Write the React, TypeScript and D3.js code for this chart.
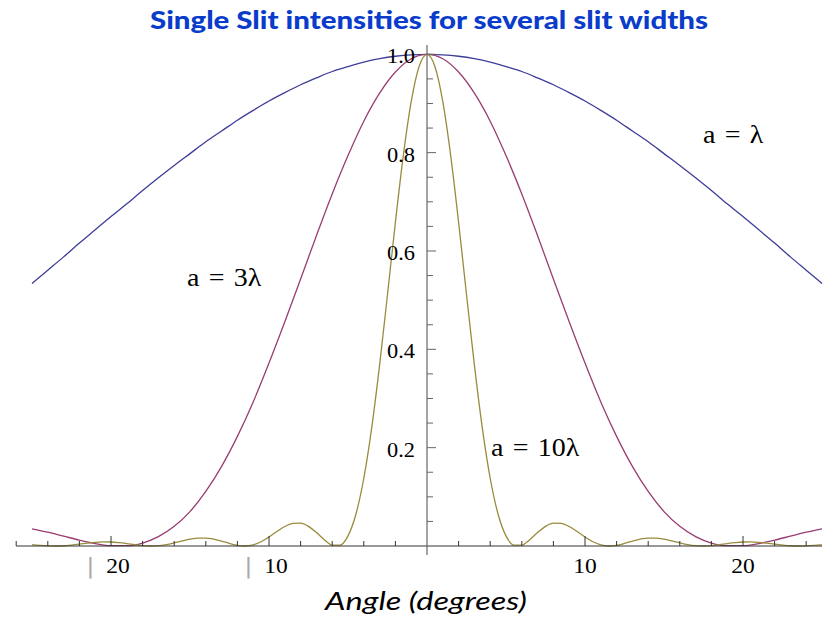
import * as d3 from "d3";

// Angles (degrees) sampled every 1 deg for the two wide slits
const ANGLES_COARSE = [
  -25, -24, -23, -22, -21, -20, -19, -18, -17, -16, -15, -14, -13, -12, -11, -10, -9, -8, -7, -6,
  -5, -4, -3, -2, -1, 0, 1, 2, 3, 4, 5, 6, 7, 8, 9, 10, 11, 12, 13, 14, 15, 16, 17, 18, 19, 20,
  21, 22, 23, 24, 25,
];

// Angles sampled every 0.5 deg for the narrow central peak of a = 10λ
const ANGLES_FINE = [
  -25, -24.5, -24, -23.5, -23, -22.5, -22, -21.5, -21, -20.5, -20, -19.5, -19, -18.5, -18, -17.5,
  -17, -16.5, -16, -15.5, -15, -14.5, -14, -13.5, -13, -12.5, -12, -11.5, -11, -10.5, -10, -9.5,
  -9, -8.5, -8, -7.5, -7, -6.5, -6, -5.5, -5, -4.5, -4, -3.5, -3, -2.5, -2, -1.5, -1, -0.5, 0,
  0.5, 1, 1.5, 2, 2.5, 3, 3.5, 4, 4.5, 5, 5.5, 6, 6.5, 7, 7.5, 8, 8.5, 9, 9.5, 10, 10.5, 11, 11.5,
  12, 12.5, 13, 13.5, 14, 14.5, 15, 15.5, 16, 16.5, 17, 17.5, 18, 18.5, 19, 19.5, 20, 20.5, 21,
  21.5, 22, 22.5, 23, 23.5, 24, 24.5, 25,
];

const I_A1 = [
  0.534, 0.561, 0.588, 0.616, 0.643, 0.670, 0.696, 0.723, 0.749, 0.774, 0.798, 0.822, 0.844,
  0.866, 0.886, 0.905, 0.922, 0.938, 0.952, 0.965, 0.975, 0.984, 0.991, 0.996, 0.999, 1.0,
  0.999, 0.996, 0.991, 0.984, 0.975, 0.965, 0.952, 0.938, 0.922, 0.905, 0.886, 0.866, 0.844,
  0.822, 0.798, 0.774, 0.749, 0.723, 0.696, 0.670, 0.643, 0.616, 0.588, 0.561, 0.534,
];

const I_A3 = [
  0.035, 0.028, 0.020, 0.012, 0.005, 0.0006, 0.0006, 0.006, 0.019, 0.040, 0.070, 0.111, 0.162,
  0.223, 0.293, 0.372, 0.456, 0.543, 0.631, 0.716, 0.794, 0.864, 0.921, 0.964, 0.991, 1.0,
  0.991, 0.964, 0.921, 0.864, 0.794, 0.716, 0.631, 0.543, 0.456, 0.372, 0.293, 0.223, 0.162,
  0.111, 0.070, 0.040, 0.019, 0.006, 0.0006, 0.0006, 0.005, 0.012, 0.020, 0.028, 0.035,
];

const I_A10 = [
  0.0024, 0.0012, 0.0003, 0.0, 0.0005, 0.0019, 0.0037, 0.0057, 0.0074, 0.0083, 0.0081, 0.0069,
  0.005, 0.0027, 0.0008, 0.0, 0.0007, 0.0029, 0.0064, 0.0104, 0.014, 0.0162, 0.0162, 0.014,
  0.01, 0.0053, 0.0014, 0.0, 0.0023, 0.0086, 0.0182, 0.0295, 0.0397, 0.0462, 0.0465, 0.0399,
  0.0274, 0.0128, 0.0019, 0.0019, 0.0206, 0.0645, 0.1378, 0.2404, 0.3679, 0.5114, 0.6583,
  0.7939, 0.9037, 0.9752, 1.0,
  0.9752, 0.9037, 0.7939, 0.6583, 0.5114, 0.3679, 0.2404, 0.1378, 0.0645, 0.0206, 0.0019,
  0.0019, 0.0128, 0.0274, 0.0399, 0.0465, 0.0462, 0.0397, 0.0295, 0.0182, 0.0086, 0.0023, 0.0,
  0.0014, 0.0053, 0.01, 0.014, 0.0162, 0.0162, 0.014, 0.0104, 0.0064, 0.0029, 0.0007, 0.0,
  0.0008, 0.0027, 0.005, 0.0069, 0.0081, 0.0083, 0.0074, 0.0057, 0.0037, 0.0019, 0.0005, 0.0,
  0.0003, 0.0012, 0.0024,
];

const SERIES = [
  { name: "a = λ", angles: ANGLES_COARSE, values: I_A1, color: "#3d3d99" },
  { name: "a = 3λ", angles: ANGLES_COARSE, values: I_A3, color: "#993d71" },
  { name: "a = 10λ", angles: ANGLES_FINE, values: I_A10, color: "#998b3d" },
];

const X_TICKS_MINOR = [-26, -24, -22, -18, -16, -14, -12, -8, -6, -4, -2, 2, 4, 6, 8, 12, 14, 16, 18, 22, 24];
const X_TICKS_MAJOR = [-20, -10, 10, 20];
const Y_TICKS_MAJOR = [0.2, 0.4, 0.6, 0.8, 1.0];
const Y_TICKS_MINOR = [0.05, 0.1, 0.15, 0.25, 0.3, 0.35, 0.45, 0.5, 0.55, 0.65, 0.7, 0.75, 0.85, 0.9, 0.95];

const W = 835;
const H = 620;
const SERIF = "'Liberation Serif', 'Times New Roman', serif";
const SX = 1.12; // the original picture is stretched horizontally

export default function App() {
  const x = d3.scaleLinear().domain([-25, 25]).range([32, 822]);
  const y = d3.scaleLinear().domain([0, 1]).range([546, 54.3]);

  const line = d3
    .line<[number, number]>()
    .x((d) => x(d[0]))
    .y((d) => y(d[1]))
    .curve(d3.curveMonotoneX);

  const x0 = x(0);
  const y0 = y(0);

  const label = (text: string, lx: number, ly: number) => (
    <g transform={`translate(${lx},${ly}) scale(${SX},1)`}>
      <text fontFamily={SERIF} fontSize={25} wordSpacing={2} fill="#000">
        {text}
      </text>
    </g>
  );

  return (
    <svg
      width={W}
      height={H}
      style={{ position: "absolute", left: 0, top: 0, background: "#fff" }}
    >
      <text
        x={429}
        y={29}
        textAnchor="middle"
        fontFamily="Lato, 'Open Sans', sans-serif"
        fontWeight="900"
        fontSize={24}
        fill="#0a3ccc"
        textLength={558}
        lengthAdjust="spacingAndGlyphs"
      >
        Single Slit intensities for several slit widths
      </text>

      {SERIES.map((s) => (
        <path
          key={s.name}
          d={line(s.angles.map((a, i) => [a, s.values[i]] as [number, number])) || ""}
          fill="none"
          stroke={s.color}
          strokeWidth={1.3}
        />
      ))}

      {/* x axis */}
      <line x1={x(-26)} x2={x(25)} y1={y0} y2={y0} stroke="#333" strokeWidth={1} />
      {X_TICKS_MINOR.map((t) => (
        <line key={t} x1={x(t)} x2={x(t)} y1={y0} y2={y0 - 5} stroke="#333" />
      ))}
      {X_TICKS_MAJOR.map((t) => (
        <line key={t} x1={x(t)} x2={x(t)} y1={y0} y2={y0 - 10} stroke="#333" />
      ))}
      {X_TICKS_MAJOR.map((t) => (
        <g key={t} transform={`translate(${x(t) - (t < 0 ? 3 : 0)},573) scale(${SX},1)`}>
          <text fontFamily={SERIF} fontSize={21} textAnchor="middle" fill="#000">
            {t < 0 && <tspan fill="#aaa" fontFamily="'DejaVu Sans', sans-serif" fontSize={22}>|</tspan>}
            {t < 0 ? "\u2002" + Math.abs(t) : String(t)}
          </text>
        </g>
      ))}

      {/* y axis */}
      <line x1={x0} x2={x0} y1={45} y2={555} stroke="#666" strokeWidth={1.2} />
      {Y_TICKS_MINOR.map((t) => (
        <line key={t} x1={x0} x2={x0 + 6} y1={y(t)} y2={y(t)} stroke="#666" />
      ))}
      {Y_TICKS_MAJOR.map((t) => (
        <line key={t} x1={x0} x2={x0 + 9} y1={y(t)} y2={y(t)} stroke="#666" />
      ))}
      {Y_TICKS_MAJOR.map((t) => (
        <g key={t} transform={`translate(415,${y(t) + 9}) scale(${SX},1)`}>
          <text fontFamily={SERIF} fontSize={20} textAnchor="end" fill="#000">
            {t.toFixed(1)}
          </text>
        </g>
      ))}

      {label("a = λ", 703, 143)}
      {label("a = 3λ", 187, 286)}
      {label("a = 10λ", 491, 456)}

      <text
        x={426}
        y={610}
        textAnchor="middle"
        fontFamily="Lato, 'Open Sans', sans-serif"
        fontStyle="italic"
        fontSize={25}
        fill="#000"
        textLength={202}
        lengthAdjust="spacingAndGlyphs"
      >
        Angle (degrees)
      </text>
    </svg>
  );
}
